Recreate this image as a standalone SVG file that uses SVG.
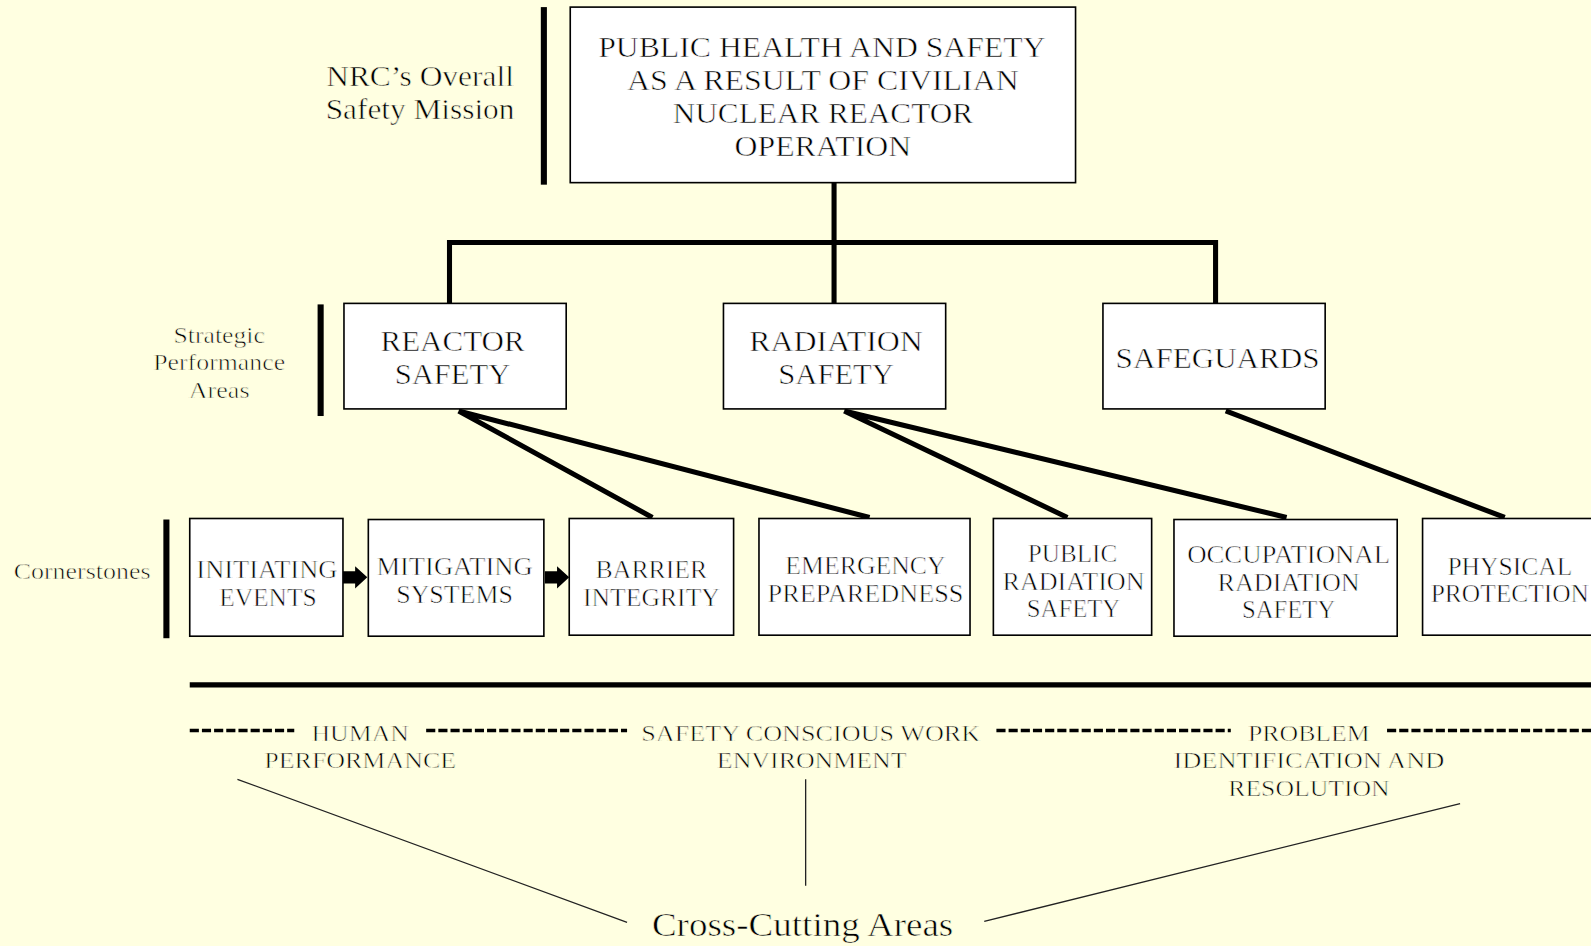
<svg xmlns="http://www.w3.org/2000/svg" width="1591" height="946" viewBox="0 0 1591 946">
<style>
text{font-family:"Liberation Serif","Times New Roman",serif;fill:#000;text-anchor:middle;stroke:#fff;stroke-width:0.6}
.bg text{stroke:#FFFFE1}
.box{fill:#fff;stroke:#000;stroke-width:1.6}
.bar{fill:#000}
.thick{stroke:#000;stroke-width:5;fill:none}
.thin{stroke:#222;stroke-width:1.3;fill:none}
.dash{stroke:#000;stroke-width:3.5;stroke-dasharray:9 3;fill:none}
.t30{font-size:30px}
.t26{font-size:25px}
.t22{font-size:22px}
</style>
<rect width="1591" height="946" fill="#FFFFE1"/>
<g transform="scale(1.01467)">
<g id="connectors">
<path class="thick" d="M822,180 V299 M443,299 V239 H1198 V299"/>
<path class="thick" d="M452,405 L643,510 M452,405 L857,510 M832,405 L1052,510 M832,405 L1268,510 M1208,405 L1483,510"/>
<path d="M338,563 H350 V558 L362,569 L350,580 V575 H338 Z" fill="#000"/>
<path d="M537,563 H549 V558 L561,569 L549,580 V575 H537 Z" fill="#000"/>
<path class="thick" d="M187,675 H1591"/>
<path class="dash" d="M187,720 H290 M420,720 H618 M982,720 H1213 M1367,720 H1591"/>
<path class="thin" d="M234,768 L618,909 M794,768 V873 M1439,792 L970,908"/>
</g>
<g id="mission-label" class="bg">
<rect class="bar" x="533" y="7" width="6" height="175"/>
<text class="t30" x="414" y="85" textLength="185" lengthAdjust="spacingAndGlyphs">NRC’s Overall</text>
<text class="t30" x="414" y="117" textLength="186" lengthAdjust="spacingAndGlyphs">Safety Mission</text>
</g>
<g id="mission">
<rect class="box" x="562" y="7" width="498" height="173"/>
<text class="t30" x="810" y="56" textLength="441" lengthAdjust="spacingAndGlyphs">PUBLIC HEALTH AND SAFETY</text>
<text class="t30" x="811" y="89" textLength="386" lengthAdjust="spacingAndGlyphs">AS A RESULT OF CIVILIAN</text>
<text class="t30" x="811" y="121" textLength="296" lengthAdjust="spacingAndGlyphs">NUCLEAR REACTOR</text>
<text class="t30" x="811" y="154" textLength="174" lengthAdjust="spacingAndGlyphs">OPERATION</text>
</g>
<g id="spa-label" class="bg">
<rect class="bar" x="313" y="300" width="6" height="110"/>
<text class="t22" x="216" y="338" textLength="90" lengthAdjust="spacingAndGlyphs">Strategic</text>
<text class="t22" x="216" y="365" textLength="130" lengthAdjust="spacingAndGlyphs">Performance</text>
<text class="t22" x="216" y="392" textLength="60" lengthAdjust="spacingAndGlyphs">Areas</text>
</g>
<g id="reactor-safety">
<rect class="box" x="339" y="299" width="219" height="104"/>
<text class="t30" x="446" y="346" textLength="142" lengthAdjust="spacingAndGlyphs">REACTOR</text>
<text class="t30" x="446" y="378" textLength="114" lengthAdjust="spacingAndGlyphs">SAFETY</text>
</g>
<g id="radiation-safety">
<rect class="box" x="713" y="299" width="219" height="104"/>
<text class="t30" x="824" y="346" textLength="171" lengthAdjust="spacingAndGlyphs">RADIATION</text>
<text class="t30" x="824" y="378" textLength="114" lengthAdjust="spacingAndGlyphs">SAFETY</text>
</g>
<g id="safeguards">
<rect class="box" x="1087" y="299" width="219" height="104"/>
<text class="t30" x="1200" y="363" textLength="201" lengthAdjust="spacingAndGlyphs">SAFEGUARDS</text>
</g>
<g id="cornerstones-label" class="bg">
<rect class="bar" x="161" y="512" width="6" height="117"/>
<text class="t22" x="81" y="571" textLength="135" lengthAdjust="spacingAndGlyphs">Cornerstones</text>
</g>
<g id="initiating-events">
<rect class="box" x="187" y="511" width="151" height="116"/>
<text class="t26" x="263" y="570" textLength="139" lengthAdjust="spacingAndGlyphs">INITIATING</text>
<text class="t26" x="264" y="597" textLength="96" lengthAdjust="spacingAndGlyphs">EVENTS</text>
</g>
<g id="mitigating-systems">
<rect class="box" x="363" y="512" width="173" height="115"/>
<text class="t26" x="448" y="567" textLength="154" lengthAdjust="spacingAndGlyphs">MITIGATING</text>
<text class="t26" x="448" y="594" textLength="115" lengthAdjust="spacingAndGlyphs">SYSTEMS</text>
</g>
<g id="barrier-integrity">
<rect class="box" x="561" y="511" width="162" height="115"/>
<text class="t26" x="642" y="570" textLength="110" lengthAdjust="spacingAndGlyphs">BARRIER</text>
<text class="t26" x="642" y="597" textLength="135" lengthAdjust="spacingAndGlyphs">INTEGRITY</text>
</g>
<g id="emergency-preparedness">
<rect class="box" x="748" y="511" width="208" height="115"/>
<text class="t26" x="853" y="566" textLength="158" lengthAdjust="spacingAndGlyphs">EMERGENCY</text>
<text class="t26" x="853" y="593" textLength="193" lengthAdjust="spacingAndGlyphs">PREPAREDNESS</text>
</g>
<g id="public-radiation-safety">
<rect class="box" x="979" y="511" width="156" height="115"/>
<text class="t26" x="1057" y="554" textLength="88" lengthAdjust="spacingAndGlyphs">PUBLIC</text>
<text class="t26" x="1058" y="581" textLength="140" lengthAdjust="spacingAndGlyphs">RADIATION</text>
<text class="t26" x="1058" y="608" textLength="92" lengthAdjust="spacingAndGlyphs">SAFETY</text>
</g>
<g id="occupational-radiation-safety">
<rect class="box" x="1157" y="512" width="220" height="115"/>
<text class="t26" x="1270" y="555" textLength="200" lengthAdjust="spacingAndGlyphs">OCCUPATIONAL</text>
<text class="t26" x="1270" y="582" textLength="140" lengthAdjust="spacingAndGlyphs">RADIATION</text>
<text class="t26" x="1270" y="609" textLength="92" lengthAdjust="spacingAndGlyphs">SAFETY</text>
</g>
<g id="physical-protection">
<rect class="box" x="1402" y="511" width="200" height="115"/>
<text class="t26" x="1488" y="567" textLength="123" lengthAdjust="spacingAndGlyphs">PHYSICAL</text>
<text class="t26" x="1488" y="593" textLength="156" lengthAdjust="spacingAndGlyphs">PROTECTION</text>
</g>
<g id="human-performance" class="bg">
<text class="t22" x="355" y="730" textLength="96" lengthAdjust="spacingAndGlyphs">HUMAN</text>
<text class="t22" x="355" y="757" textLength="189" lengthAdjust="spacingAndGlyphs">PERFORMANCE</text>
</g>
<g id="safety-conscious-work-environment" class="bg">
<text class="t22" x="799" y="730" textLength="334" lengthAdjust="spacingAndGlyphs">SAFETY CONSCIOUS WORK</text>
<text class="t22" x="800" y="757" textLength="187" lengthAdjust="spacingAndGlyphs">ENVIRONMENT</text>
</g>
<g id="problem-identification-resolution" class="bg">
<text class="t22" x="1290" y="730" textLength="120" lengthAdjust="spacingAndGlyphs">PROBLEM</text>
<text class="t22" x="1290" y="757" textLength="267" lengthAdjust="spacingAndGlyphs">IDENTIFICATION AND</text>
<text class="t22" x="1290" y="784" textLength="159" lengthAdjust="spacingAndGlyphs">RESOLUTION</text>
</g>
<g id="cross-cutting-areas" class="bg">
<text x="791" y="922" font-size="34" textLength="297" lengthAdjust="spacingAndGlyphs">Cross-Cutting Areas</text>
</g>
</g>
</svg>
